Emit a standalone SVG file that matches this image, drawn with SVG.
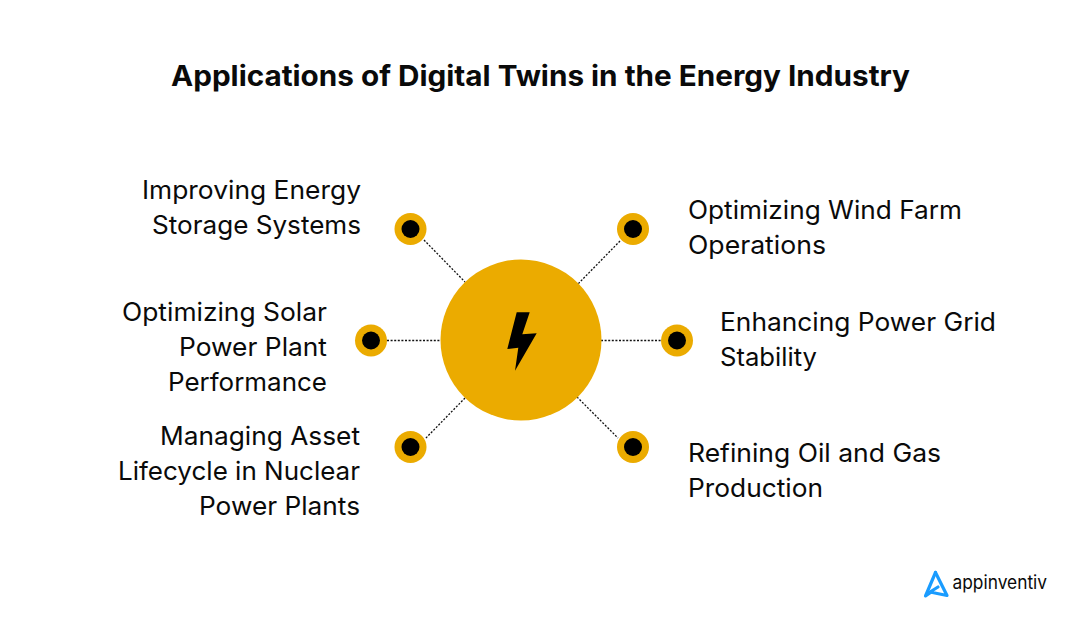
<svg xmlns="http://www.w3.org/2000/svg" width="1080" height="630" viewBox="0 0 1080 630">
<style>
text{font-family:"Inter","Liberation Sans",sans-serif;fill:#0a0a0a;font-variant-ligatures:none}
.t{font-size:25.5px;font-weight:400}
.e{text-anchor:end}
.o{fill:#ebab00}
.i{fill:#000}
.c{stroke:#111;stroke-width:1.3;stroke-dasharray:2 1.6;fill:none}
</style>
<rect width="1080" height="630" fill="#fff"/>
<text id="title" x="540.5" y="86" text-anchor="middle" font-size="28.5" font-weight="700" textLength="739" lengthAdjust="spacingAndGlyphs">Applications of Digital Twins in the Energy Industry</text>
<g id="connectors">
<path class="c" d="M424 240L465 282"/>
<path class="c" d="M620 241L578 284"/>
<path class="c" d="M387 340.5H441"/>
<path class="c" d="M601 340.5H661"/>
<path class="c" d="M465 398L425 439"/>
<path class="c" d="M577 397L618 438"/>
</g>
<g id="hub">
<circle class="o" cx="521" cy="340" r="80.5"/>
<polygon class="i" points="516.7,312.3 529.7,312.3 522.3,334.3 536.7,333.3 515,370.7 518.3,347.7 507.3,349"/>
</g>
<g id="n1"><circle class="o" cx="410.5" cy="229" r="16"/><circle class="i" cx="410.5" cy="229" r="9"/>
<text class="t e" x="361" y="199" textLength="219" lengthAdjust="spacingAndGlyphs">Improving Energy</text><text class="t e" x="361" y="234" textLength="209" lengthAdjust="spacingAndGlyphs">Storage Systems</text></g>
<g id="n2"><circle class="o" cx="371" cy="340.5" r="16"/><circle class="i" cx="371" cy="340.5" r="9"/>
<text class="t e" x="327" y="321" textLength="205" lengthAdjust="spacingAndGlyphs">Optimizing Solar</text><text class="t e" x="327" y="356" textLength="148" lengthAdjust="spacingAndGlyphs">Power Plant</text><text class="t e" x="327" y="391" textLength="159" lengthAdjust="spacingAndGlyphs">Performance</text></g>
<g id="n3"><circle class="o" cx="410.5" cy="447" r="16"/><circle class="i" cx="410.5" cy="447" r="9"/>
<text class="t e" x="360" y="445" textLength="200" lengthAdjust="spacingAndGlyphs">Managing Asset</text><text class="t e" x="360" y="480" textLength="242" lengthAdjust="spacingAndGlyphs">Lifecycle in Nuclear</text><text class="t e" x="360" y="515" textLength="161" lengthAdjust="spacingAndGlyphs">Power Plants</text></g>
<g id="n4"><circle class="o" cx="633" cy="229" r="16"/><circle class="i" cx="633" cy="229" r="9"/>
<text class="t" x="688" y="219" textLength="274" lengthAdjust="spacingAndGlyphs">Optimizing Wind Farm</text><text class="t" x="688" y="254" textLength="138" lengthAdjust="spacingAndGlyphs">Operations</text></g>
<g id="n5"><circle class="o" cx="677" cy="340.5" r="16"/><circle class="i" cx="677" cy="340.5" r="9"/>
<text class="t" x="720" y="331" textLength="276" lengthAdjust="spacingAndGlyphs">Enhancing Power Grid</text><text class="t" x="720" y="366" textLength="97" lengthAdjust="spacingAndGlyphs">Stability</text></g>
<g id="n6"><circle class="o" cx="633" cy="447" r="16"/><circle class="i" cx="633" cy="447" r="9"/>
<text class="t" x="688" y="462" textLength="253" lengthAdjust="spacingAndGlyphs">Refining Oil and Gas</text><text class="t" x="688" y="497" textLength="135" lengthAdjust="spacingAndGlyphs">Production</text></g>
<g id="logo">
<path d="M935.5 572.5L947 595.5L930 592L938 587" fill="none" stroke="#1a9cff" stroke-width="3.2" stroke-linejoin="round" stroke-linecap="round"/>
<path d="M935.5 572.5L925.5 596L932 591.5" fill="none" stroke="#1a9cff" stroke-width="3.2" stroke-linejoin="round" stroke-linecap="round"/>
<text x="952.5" y="589" font-size="18.5" font-weight="400" textLength="94.5" lengthAdjust="spacingAndGlyphs">appinventiv</text>
</g>
</svg>
